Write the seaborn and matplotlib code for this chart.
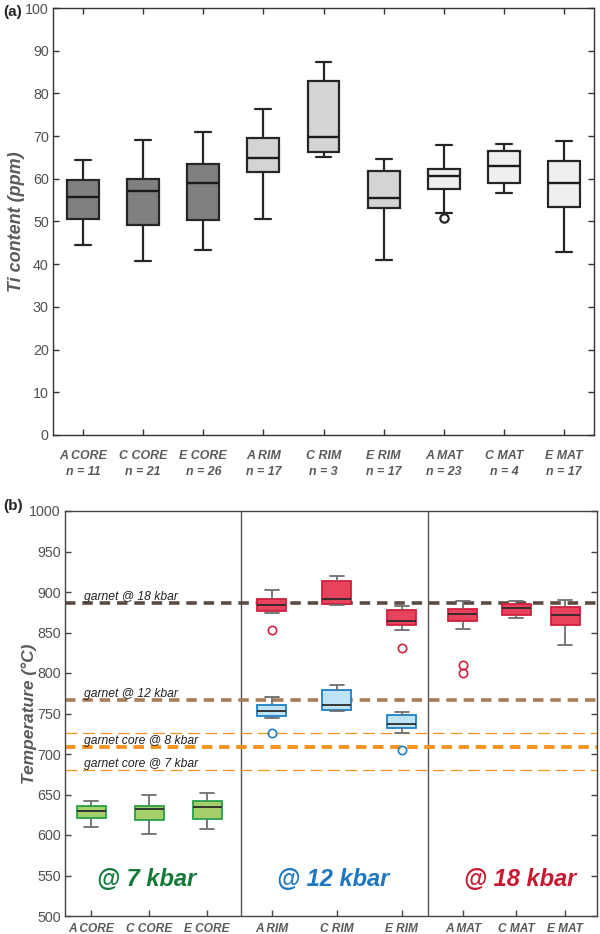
import numpy as np
import pandas as pd
import matplotlib
matplotlib.use("Agg")
import matplotlib.pyplot as plt
import seaborn as sns

sns.set_theme(style="white")
plt.rcParams['font.family'] = ['Liberation Sans', 'DejaVu Sans']

# ---------------- Panel (a): Ti content ----------------
cats_a = ["A CORE", "C CORE", "E CORE", "A RIM", "C RIM", "E RIM", "A MAT", "C MAT", "E MAT"]
n_a = [11, 21, 26, 17, 3, 17, 23, 4, 17]
lo_a = [44.6, 40.7, 43.3, 50.5, 65.2, 41.1, 52.0, 56.7, 42.8]
q1_a = [50.6, 49.2, 50.4, 61.7, 66.3, 53.2, 57.7, 58.9, 53.5]
med_a = [55.7, 57.1, 58.9, 64.9, 69.8, 55.4, 60.7, 63.1, 58.9]
q3_a = [59.7, 60.0, 63.5, 69.6, 82.9, 61.9, 62.2, 66.4, 64.2]
hi_a = [64.3, 69.2, 70.9, 76.3, 87.3, 64.6, 67.8, 68.1, 68.8]
out_a = [[], [], [], [], [], [], [50.8], [], []]

# ---------------- Panel (b): temperatures ----------------
cats_b = ["A CORE", "C CORE", "E CORE", "A RIM", "C RIM", "E RIM", "A MAT", "C MAT", "E MAT"]

t7_cats = ["A CORE", "C CORE", "E CORE"]
t7_lo = [609.9, 601.6, 607.4]
t7_q1 = [621.0, 618.5, 620.1]
t7_med = [629.3, 631.7, 635.0]
t7_q3 = [635.8, 636.2, 641.6]
t7_hi = [642.4, 649.4, 651.9]
t7_out = [[], [], []]

t12_cats = ["A RIM", "C RIM", "E RIM"]
t12_lo = [744.8, 753.1, 726.4]
t12_q1 = [747.3, 754.3, 731.5]
t12_med = [752.6, 760.9, 736.6]
t12_q3 = [760.0, 779.0, 748.0]
t12_hi = [770.8, 785.2, 752.3]
t12_out = [[726.3], [], [705.5]]

t18_cats = ["A RIM", "C RIM", "E RIM", "A MAT", "C MAT", "E MAT"]
t18_lo = [874.5, 884.0, 853.5, 854.7, 867.5, 835.0]
t18_q1 = [877.0, 884.8, 859.5, 863.8, 871.2, 859.7]
t18_med = [883.6, 891.8, 864.6, 873.2, 879.8, 871.6]
t18_q3 = [891.8, 913.2, 878.2, 878.6, 885.6, 881.9]
t18_hi = [903.0, 919.8, 882.7, 888.5, 889.3, 890.5]
t18_out = [[853.5], [], [830.5], [810.0, 800.4], [], []]

ref_vals = [886.0, 766.3, 725.5, 708.6, 680.2]
ref_labels = ["garnet @ 18 kbar", "garnet @ 12 kbar", None, "garnet core @ 8 kbar", "garnet core @ 7 kbar"]

# layout (panel b category positions in axis units 0..10)
pos_b = [0.49, 1.58, 2.67, 3.89, 5.11, 6.33, 7.48, 8.48, 9.40]
sep_b = [3.31, 6.82]


def expand(lo, q1, med, q3, hi, outs, r=20):
    return sorted(list(outs) + [lo] + [q1] * r + [med] * r + [q3] * r + [hi])


def build(cats, lo, q1, med, q3, hi, outs, xmap=None):
    rows = []
    for i, c in enumerate(cats):
        for v in expand(lo[i], q1[i], med[i], q3[i], hi[i], outs[i]):
            rows.append({"cat": c, "x": xmap[c] if xmap else c, "v": v})
    return pd.DataFrame(rows)


fig = plt.figure(figsize=(6.0, 9.34), dpi=100)
axA = fig.add_axes([53 / 600, 1 - 435 / 934, 541 / 600, 427 / 934])
axB = fig.add_axes([65 / 600, 1 - 916 / 934, 532 / 600, 405 / 934])

gray_txt = "#505050"
lab_c = "#5a5a5a"

# ---- Panel (a)
dfa = build(cats_a, lo_a, q1_a, med_a, q3_a, hi_a, out_a)
fill_a = {c: ("#808080" if "CORE" in c else ("#d4d4d4" if "RIM" in c else "#efefef")) for c in cats_a}
sns.boxplot(data=dfa, x="cat", y="v", hue="cat", order=cats_a, hue_order=cats_a, palette=fill_a,
            saturation=1, width=0.53, linecolor="#262626", linewidth=1.6, legend=False, ax=axA,
            flierprops=dict(marker="o", markerfacecolor="none", markeredgecolor="#262626",
                            markersize=6, markeredgewidth=1.6),
            medianprops=dict(color="#1a1a1a", linewidth=1.7))
axA.set_xlim(-0.5, 8.5)
axA.set_ylim(0, 100)
axA.set_yticks(np.arange(0, 101, 10))
axA.set_xticks(range(len(cats_a)))
axA.set_xticklabels([f"{c}\nn = {n}" for c, n in zip(cats_a, n_a)], fontsize=8.9,
                    fontweight="bold", fontstyle="italic", color=lab_c, linespacing=1.45)
axA.tick_params(axis="y", labelsize=10.3, labelcolor=gray_txt, pad=3)
axA.tick_params(axis="x", pad=11)
axA.tick_params(direction="in", length=4, width=1, color="#333333", top=True, right=True,
                bottom=True, left=True)
axA.set_xlabel("")
axA.set_ylabel("Ti content (ppm)", fontsize=13, fontweight="bold", fontstyle="italic",
               color=lab_c)
axA.yaxis.set_label_coords(-0.052, 0.5)
for s in axA.spines.values():
    s.set_color("#333333")
    s.set_linewidth(1)

# ---- Panel (b)
xmap = dict(zip(cats_b, pos_b))
box_w = 0.545
groups = [
    (t7_cats, t7_lo, t7_q1, t7_med, t7_q3, t7_hi, t7_out, "#a5cf6a", "#27a04a"),
    (t12_cats, t12_lo, t12_q1, t12_med, t12_q3, t12_hi, t12_out, "#bfe3f7", "#1f7fc6"),
    (t18_cats, t18_lo, t18_q1, t18_med, t18_q3, t18_hi, t18_out, "#e8435d", "#d0203f"),
]
for cats, lo, q1, med, q3, hi, outs, fc, ec in groups:
    d = build(cats, lo, q1, med, q3, hi, outs, xmap)
    xs = sorted(d["x"].unique())
    spacing = min(np.diff(xs))
    sns.boxplot(data=d, x="x", y="v", native_scale=True, orient="x", color=fc, saturation=1,
                width=box_w / spacing, linecolor=ec, linewidth=1.3, ax=axB,
                whiskerprops=dict(color="#6e6e6e", linewidth=1.3),
                capprops=dict(color="#6e6e6e", linewidth=1.3),
                medianprops=dict(color="#2a2a2a", linewidth=1.3),
                flierprops=dict(marker="o", markerfacecolor="none", markeredgecolor=ec,
                                markersize=6, markeredgewidth=1.2))

styles = [
    dict(color="#5c4b43", lw=2.6, dashes=(2.9, 1.9)),
    dict(color="#a87c55", lw=2.6, dashes=(2.9, 1.9)),
    dict(color="#f7941d", lw=0.9, dashes=(9.5, 4.5)),
    dict(color="#f7941d", lw=2.8, dashes=(2.7, 1.7)),
    dict(color="#f7941d", lw=0.9, dashes=(9.5, 4.5)),
]
for v, lab, st in zip(ref_vals, ref_labels, styles):
    axB.axhline(v, color=st["color"], lw=st["lw"], dashes=st["dashes"], zorder=1)
    if lab:
        axB.text(0.36, v + 4, lab, fontsize=8.7, fontstyle="italic", color="#222222",
                 va="baseline", ha="left", zorder=5)
for s in sep_b:
    axB.axvline(s, color="#555555", lw=1, zorder=0)

axB.text(1.53, 545, "@ 7 kbar", color="#137a3a", fontsize=17, fontweight="bold",
         fontstyle="italic", ha="center", va="center")
axB.text(5.04, 545, "@ 12 kbar", color="#1f77c2", fontsize=17, fontweight="bold",
         fontstyle="italic", ha="center", va="center")
axB.text(8.56, 545, "@ 18 kbar", color="#c8192f", fontsize=17, fontweight="bold",
         fontstyle="italic", ha="center", va="center")

axB.set_xlim(0, 10)
axB.set_ylim(500, 1000)
axB.set_yticks(np.arange(500, 1001, 50))
axB.set_xticks(pos_b)
axB.set_xticklabels(cats_b, fontsize=8.6, fontweight="bold", fontstyle="italic", color=lab_c)
axB.tick_params(axis="y", labelsize=10.3, labelcolor=gray_txt, pad=3)
axB.tick_params(axis="x", pad=5)
axB.tick_params(direction="in", length=4, width=1, color="#444444", top=False, right=True,
                bottom=True, left=True)
axB.set_xlabel("")
axB.set_ylabel("Temperature (°C)", fontsize=12.5, fontweight="bold", fontstyle="italic",
               color=lab_c)
axB.yaxis.set_label_coords(-0.053, 0.5)
for s in axB.spines.values():
    s.set_color("#444444")
    s.set_linewidth(1)

fig.text(3 / 600, 1 - 12 / 934, "(a)", fontsize=11, fontweight="bold", ha="left", va="center")
fig.text(3 / 600, 1 - 506 / 934, "(b)", fontsize=11, fontweight="bold", ha="left", va="center")

fig.savefig("out.png", dpi=100)
